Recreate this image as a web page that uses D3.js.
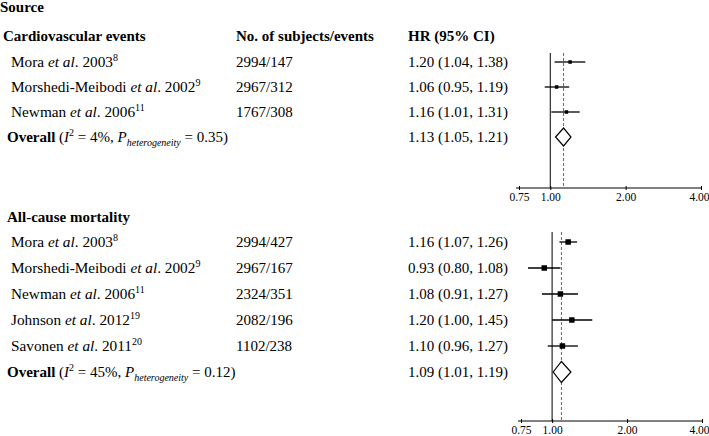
<!DOCTYPE html>
<html>
<head>
<meta charset="utf-8">
<script src="https://cdn.jsdelivr.net/npm/d3@7"></script>
<style>
  body { margin: 0; background: #fff; }
  svg { display: block; font-family: "Liberation Serif", "Times New Roman", serif; }
</style>
</head>
<body>
<div id="chart"></div>
<script>
// cardiovascular events
const cvAuthors = ["Mora", "Morshedi-Meibodi", "Newman"];
const cvYears = ["2003", "2002", "2006"];
const cvRefs = ["8", "9", "11"];
const cvCounts = ["2994/147", "2967/312", "1767/308"];
const cvHR = [1.20, 1.06, 1.16];
const cvLo = [1.04, 0.95, 1.01];
const cvHi = [1.38, 1.19, 1.31];
const cvOverall = [1.13, 1.05, 1.21];
const cvHet = ["4%", "0.35"];

// all-cause mortality
const acAuthors = ["Mora", "Morshedi-Meibodi", "Newman", "Johnson", "Savonen"];
const acYears = ["2003", "2002", "2006", "2012", "2011"];
const acRefs = ["8", "9", "11", "19", "20"];
const acCounts = ["2994/427", "2967/167", "2324/351", "2082/196", "1102/238"];
const acHR = [1.16, 0.93, 1.08, 1.20, 1.10];
const acLo = [1.07, 0.80, 0.91, 1.00, 0.96];
const acHi = [1.26, 1.08, 1.27, 1.45, 1.27];
const acOverall = [1.09, 1.01, 1.19];
const acHet = ["45%", "0.12"];

const tickVals = [0.75, 1.00, 2.00, 4.00];

const fmt = d3.format(".2f");
const W = 709, H = 436;

const svg = d3.select("#chart").append("svg")
  .attr("width", W).attr("height", H);

svg.append("text").attr("x", 0).attr("y", 12)
  .attr("font-size", 15).attr("font-weight", "bold").text("Source");

// column headers
svg.append("text").attr("x", 3).attr("y", 41)
  .attr("font-size", 15).attr("font-weight", "bold").text("Cardiovascular events");
svg.append("text").attr("x", 236).attr("y", 41)
  .attr("font-size", 15).attr("font-weight", "bold").text("No. of subjects/events");
svg.append("text").attr("x", 408).attr("y", 41)
  .attr("font-size", 15).attr("font-weight", "bold").text("HR (95% CI)");

function drawPanel(opt) {
  const g = svg.append("g");
  const n = opt.hr.length;
  const x = d3.scaleLog().domain([0.75, 4]).range(opt.xRange);
  const y = d3.scaleLinear().domain([0, 1]).range([opt.y0, opt.y0 + opt.step]);

  const rows = d3.range(n).map(i => ({
    author: opt.authors[i], year: opt.years[i], ref: opt.refs[i],
    count: opt.counts[i], hr: opt.hr[i], lo: opt.lo[i], hi: opt.hi[i], i: i
  }));

  // study labels
  const lab = g.selectAll(".lab").data(rows).enter().append("text")
    .attr("class", "lab")
    .attr("x", 11).attr("y", d => y(d.i) + 5)
    .attr("font-size", 15.3);
  lab.append("tspan").text(d => d.author + " ");
  lab.append("tspan").attr("font-style", "italic").text("et al");
  lab.append("tspan").text(d => ". " + d.year);
  lab.append("tspan").attr("font-size", 10).attr("dy", -6).text(d => d.ref);

  g.selectAll(".cnt").data(rows).enter().append("text")
    .attr("x", 236).attr("y", d => y(d.i) + 5)
    .attr("font-size", 15).text(d => d.count);

  g.selectAll(".ci").data(rows).enter().append("text")
    .attr("x", 408).attr("y", d => y(d.i) + 5)
    .attr("font-size", 15)
    .text(d => `${fmt(d.hr)} (${fmt(d.lo)}, ${fmt(d.hi)})`);

  // overall row
  const oy = y(n);
  const ov = g.append("text").attr("x", 7).attr("y", oy + 5).attr("font-size", 15);
  ov.append("tspan").attr("font-weight", "bold").text("Overall");
  ov.append("tspan").text(" (");
  ov.append("tspan").attr("font-style", "italic").text("I");
  ov.append("tspan").attr("font-size", 10).attr("dy", -6).text("2");
  ov.append("tspan").attr("dy", 6).text(" = " + opt.het[0] + ", ");
  ov.append("tspan").attr("font-style", "italic").text("P");
  ov.append("tspan").attr("font-style", "italic").attr("font-size", 10).attr("dy", 4).text("heterogeneity");
  ov.append("tspan").attr("dy", -4).text(" = " + opt.het[1] + ")");

  g.append("text").attr("x", 408).attr("y", oy + 5).attr("font-size", 15)
    .text(`${fmt(opt.overall[0])} (${fmt(opt.overall[1])}, ${fmt(opt.overall[2])})`);

  // reference lines
  g.append("line")
    .attr("x1", x(1)).attr("x2", x(1))
    .attr("y1", opt.lineTop).attr("y2", opt.axisY)
    .attr("stroke", "#000").attr("stroke-width", 1);
  g.append("line")
    .attr("x1", x(opt.overall[0])).attr("x2", x(opt.overall[0]))
    .attr("y1", opt.lineTop).attr("y2", opt.axisY)
    .attr("stroke", "#666").attr("stroke-width", 1)
    .attr("stroke-dasharray", "3,2");

  // CI whiskers and boxes
  g.selectAll(".whisk").data(rows).enter().append("line")
    .attr("x1", d => x(d.lo)).attr("x2", d => x(d.hi))
    .attr("y1", d => y(d.i)).attr("y2", d => y(d.i))
    .attr("stroke", "#000").attr("stroke-width", 1.3);
  g.selectAll(".box").data(rows).enter().append("rect")
    .attr("x", d => x(d.hr) - opt.box / 2)
    .attr("y", d => y(d.i) - opt.box / 2)
    .attr("width", opt.box).attr("height", opt.box)
    .attr("fill", "#000");

  // diamond
  const cx = x(opt.overall[0]), dh = opt.diamondH;
  g.append("path")
    .attr("d", `M${x(opt.overall[1])},${oy} L${cx},${oy - dh} L${x(opt.overall[2])},${oy} L${cx},${oy + dh} Z`)
    .attr("fill", "#fff").attr("stroke", "#000").attr("stroke-width", 1.2);

  // axis
  const ax = g.append("g").attr("transform", `translate(0,${opt.axisY})`)
    .call(d3.axisBottom(x).tickValues(tickVals).tickFormat(fmt).tickSize(2).tickSizeOuter(0));
  ax.attr("font-family", null).attr("font-size", null);
  ax.select(".domain").attr("d", `M${opt.xRange[0] - 3},0H${opt.xRange[1] + 1}`);
  ax.selectAll(".tick line").attr("y1", -2).attr("y2", 2);
  ax.selectAll("text")
    .attr("font-family", "Liberation Serif, serif")
    .attr("font-size", 11.5)
    .attr("fill", "#000")
    .attr("dy", null)
    .attr("y", opt.labelBase)
    .attr("dx", d => d === 4 ? opt.lastDx : 0);
}

drawPanel({
  authors: cvAuthors, years: cvYears, refs: cvRefs, counts: cvCounts,
  hr: cvHR, lo: cvLo, hi: cvHi, overall: cvOverall, het: cvHet,
  xRange: [519, 701], y0: 62, step: 25, lineTop: 53, axisY: 188,
  box: 3.5, diamondH: 9, labelBase: 13, lastDx: -2
});

svg.append("text").attr("x", 7).attr("y", 222)
  .attr("font-size", 15).attr("font-weight", "bold").text("All-cause mortality");

drawPanel({
  authors: acAuthors, years: acYears, refs: acRefs, counts: acCounts,
  hr: acHR, lo: acLo, hi: acHi, overall: acOverall, het: acHet,
  xRange: [521, 702], y0: 242, step: 26, lineTop: 232, axisY: 421,
  box: 5.5, diamondH: 10.5, labelBase: 12.5, lastDx: -3
});
</script>
</body>
</html>
